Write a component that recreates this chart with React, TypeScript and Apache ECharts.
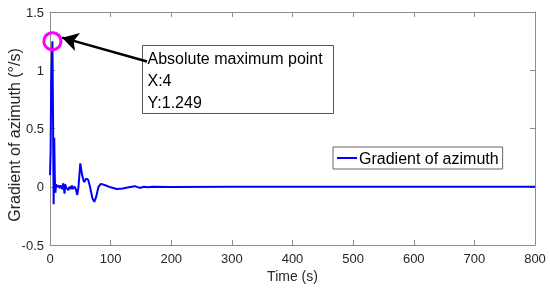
import React, { useEffect, useRef } from "react";
import * as echarts from "echarts";

const timeS = [0, 1, 2, 4, 5, 6, 7, 8, 9, 10, 12, 14, 16, 18, 20, 22, 24, 25, 27, 30, 32, 34, 36, 38, 40, 42, 45, 47, 50, 53, 56, 60, 63, 66, 70, 73, 76, 80, 84, 90, 100, 110, 120, 130, 140, 148, 155, 160, 170, 200, 300, 800];
const gradient = [0.1, 0.3, 0.9, 1.249, 0.6, -0.15, 0.42, 0.05, -0.05, 0.02, 0, 0.01, -0.01, 0.01, -0.02, 0.03, -0.06, 0.02, -0.01, -0.03, 0, -0.02, 0.01, -0.02, 0, -0.01, -0.07, 0, 0.2, 0.1, 0.04, 0.07, 0.06, 0, -0.1, -0.13, -0.09, 0, 0.025, 0.015, -0.005, -0.02, -0.015, -0.005, 0.005, -0.01, 0, -0.005, 0, -0.002, 0, 0];
const maxPoint = [4, 1.249];
const arrowFrom = [160, 1.075];
const arrowTo = [20, 1.28];
const annotationLines = ["Absolute maximum point", "X:4", "Y:1.249"];
const seriesName = "Gradient of azimuth";

const FONT = "'Liberation Sans', Arial, sans-serif";
const AXIS = "#8c8c8c";
const TXT = "#262626";

export default function App() {
  const ref = useRef<HTMLDivElement>(null);
  useEffect(() => {
    if (!ref.current) return;
    const chart = echarts.init(ref.current, null, { renderer: "svg" });
    const data = timeS.map((t, i) => [t, gradient[i]]);
    const xBase = {
      type: "value",
      min: 0,
      max: 800,
      interval: 100,
      axisLine: { show: true, onZero: false, lineStyle: { color: AXIS, width: 1 } },
      axisTick: { show: true, inside: true, length: 5, lineStyle: { color: AXIS } },
      splitLine: { show: false },
    };
    const yBase = {
      type: "value",
      min: -0.5,
      max: 1.5,
      interval: 0.5,
      axisLine: { show: true, onZero: false, lineStyle: { color: AXIS, width: 1 } },
      axisTick: { show: true, inside: true, length: 5, lineStyle: { color: AXIS } },
      splitLine: { show: false },
    };
    chart.setOption({
      animation: false,
      textStyle: { fontFamily: FONT },
      grid: { left: 50, right: 15, top: 12, bottom: 43, outerBoundsMode: "none", containLabel: false },
      xAxis: [
        {
          ...xBase,
          position: "bottom",
          name: "Time (s)",
          nameLocation: "middle",
          nameGap: 24,
          nameMoveOverlap: false,
          nameTextStyle: { fontSize: 14, color: TXT, fontFamily: FONT },
          axisLabel: { fontSize: 13, color: TXT, margin: 7, fontFamily: FONT },
        },
        { ...xBase, position: "top", axisLabel: { show: false } },
      ],
      yAxis: [
        {
          ...yBase,
          position: "left",
          name: "Gradient of azimuth (°/s)",
          nameLocation: "middle",
          nameGap: 28,
          nameMoveOverlap: false,
          nameTextStyle: { fontSize: 16, color: TXT, fontFamily: FONT, padding: [0, 13, 0, 0] },
          axisLabel: {
            fontSize: 13,
            color: TXT,
            margin: 6,
            fontFamily: FONT,
            formatter: (v: number) => String(v),
          },
        },
        { ...yBase, position: "right", axisLabel: { show: false } },
      ],
      legend: {
        data: [seriesName],
        left: 333,
        top: 147,
        backgroundColor: "#fff",
        borderColor: "#666",
        borderWidth: 1,
        padding: [3, 4, 3, 4],
        itemWidth: 20,
        itemHeight: 2,
        itemGap: 0,
        icon: "rect",
        textStyle: { fontSize: 16, color: "#000", fontFamily: FONT, padding: [0, 0, 0, -3] },
      },
      series: [
        {
          name: seriesName,
          type: "line",
          data,
          showSymbol: false,
          symbol: "none",
          lineStyle: { color: "#0000ff", width: 2 },
          itemStyle: { color: "#0000ff" },
          markPoint: {
            symbol: "circle",
            symbolSize: 17,
            silent: true,
            itemStyle: { color: "rgba(0,0,0,0)", borderColor: "#ff00ff", borderWidth: 3 },
            label: { show: false },
            data: [{ coord: maxPoint }],
          },
          markLine: {
            silent: true,
            symbol: ["none", "arrow"],
            symbolSize: [14, 16],
            label: { show: false },
            lineStyle: { color: "#000", width: 2.5, type: "solid" },
            data: [[{ coord: arrowFrom }, { coord: arrowTo }]],
          },
        },
      ],
      graphic: [
        {
          type: "group",
          left: 142,
          top: 45,
          z: 100,
          children: [
            {
              type: "rect",
              shape: { x: 0, y: 0, width: 191, height: 68 },
              style: { fill: "#fff", stroke: "#555", lineWidth: 1 },
            },
            ...annotationLines.map((t, i) => ({
              type: "text",
              x: 5,
              y: 13 + i * 22,
              style: { text: t, fontSize: 16, fill: "#000", fontFamily: FONT, textVerticalAlign: "middle" },
            })),
          ],
        },
      ],
    });
    return () => chart.dispose();
  }, []);
  return (
    <div
      ref={ref}
      style={{ position: "fixed", left: 0, top: 0, width: 550, height: 288 }}
    />
  );
}
